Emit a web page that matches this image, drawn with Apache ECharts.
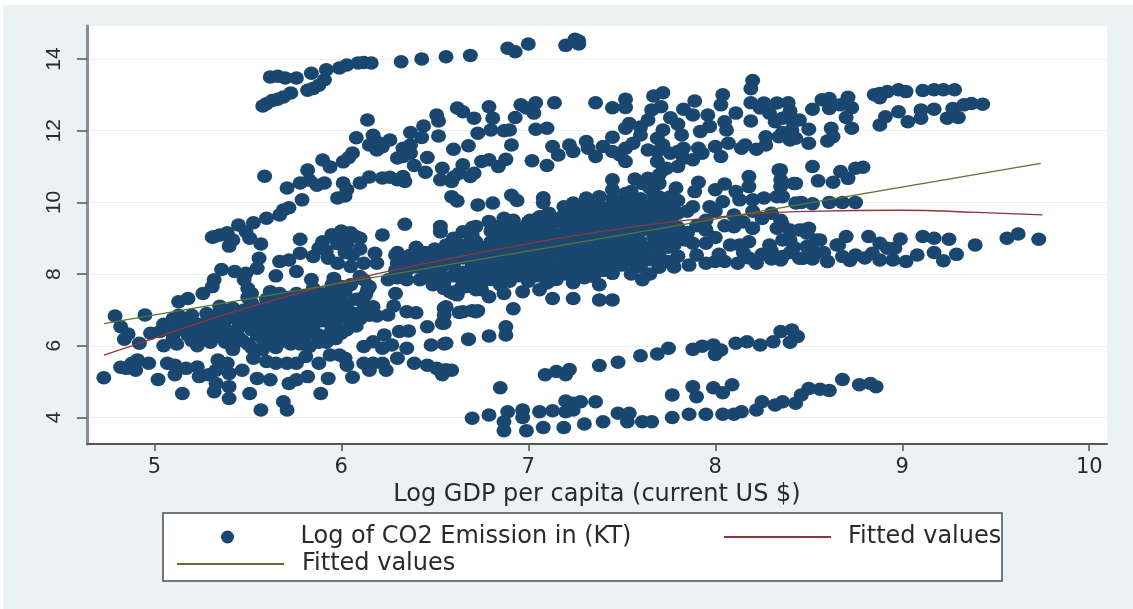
<!DOCTYPE html>
<html>
<head>
<meta charset="utf-8">
<title>Log CO2 emission vs log GDP per capita</title>
<script src="https://cdn.jsdelivr.net/npm/echarts@6/dist/echarts.min.js"></script>
<style>
  html, body { margin: 0; padding: 0; background: #fff; }
  #chart { width: 1133px; height: 609px; }
</style>
</head>
<body>
<div id="chart"></div>
<script>
// values, [log GDP per capita, log CO2]
const topArc = [[5.58,12.69],[5.6,12.75],[5.63,12.84],[5.66,12.88],[5.69,12.94],[5.73,13.05],[5.82,13.13],[5.85,13.18],[5.88,13.27],[5.91,13.42],[5.84,13.6],[5.62,13.5],[5.66,13.52],[5.7,13.47],[5.76,13.47],[5.92,13.7],[5.99,13.75],[6.03,13.83],[6.09,13.89],[6.16,13.89],[6.12,13.9],[6.32,13.92],[6.43,14],[6.56,14.06],[6.69,14.1],[6.89,14.3],[6.93,14.2],[7,14.42],[7.2,14.38],[7.27,14.5],[7.27,14.42],[7.25,14.55]];

const upperLeft = [[6.14,12.3],[6.08,11.8],[6.17,11.87],[6.19,11.46],[6.26,11.74],[6.2,11.66],[6.15,11.6],[6.22,11.55],[6.06,11.38],[6.01,11.13],[6.04,11.25],[5.9,11.18],[5.94,10.99],[5.59,10.73],[5.82,10.9],[5.71,10.4],[5.78,10.54],[5.83,10.62],[5.87,10.48],[5.91,10.54],[5.79,10.07],[6.01,10.54],[6.03,10.35],[5.98,10.12],[6.02,10.18],[6.1,10.54],[6.15,10.71],[6.22,10.68],[6.3,10.63],[6.26,10.7],[6.3,11.24],[5.69,9.79],[5.72,9.85],[5.67,9.65],[5.6,9.56],[5.53,9.43],[5.45,9.37],[5.49,9.18],[5.35,9.09],[5.31,9.03],[5.39,9.15],[5.42,8.95],
  [6.62,12.63],[6.65,12.53],[6.51,12.44],[6.52,12.27],[6.71,12.35],[6.79,12.67],[6.81,12.35],[6.93,12.37],[6.96,12.72],[6.99,12.63],[7.04,12.78],[7.03,12.49],[7.14,12.78],[6.37,11.95],[6.44,12.13],[6.43,11.81],[6.52,11.85],[6.73,11.93],[6.8,12.02],[6.87,12],[6.9,12.02],[7.04,12.04],[7.1,12.07],[6.91,11.6],[6.6,11.48],[6.68,11.58],[6.37,11.6],[6.33,11.51],[6.37,11.37],[6.33,11.28],[6.46,11.25],[6.39,11.03],[6.45,10.84],[6.33,10.72],[6.34,10.58],[6.54,10.95],[6.65,11.05],[6.75,11.14],[6.79,11.19],[6.88,11.2],[6.84,11],[7.02,11.16],[7.1,11.03],[6.53,10.63],[6.59,10.58],[6.63,10.81],[6.69,10.72],[6.71,10.81],[6.6,10.7],[6.59,10.16],[6.62,10.04],[6.73,9.93],[6.81,9.98],[6.91,10.2],[6.94,10.05],[7.08,10.13],[7.08,9.99],[6.34,9.39],[6.53,9.33],[6.53,9.18]];

const upperRight = [[7.36,12.78],[7.45,12.64],[7.52,12.88],[7.52,12.65],[7.67,12.97],[7.72,13.06],[8.2,13.4],[8.19,13.17],[7.89,12.83],[8.04,13],[8.03,12.72],[8.11,12.49],[7.96,12.44],[7.88,12.44],[7.83,12.6],[7.71,12.67],[7.66,12.58],[7.76,12.36],[7.64,12.3],[7.54,12.2],[7.6,12.1],[7.52,12.07],[7.8,12.18],[7.72,12.02],[7.6,11.88],[7.82,11.88],[7.92,11.98],[7.97,12.12],[8.05,12.25],[8.06,12.02],[8.19,12.27],[8.19,12.78],[8.26,12.77],[8.33,12.77],[8.39,12.78],[8.24,12.63],[8.29,12.49],[8.32,12.25],[8.36,12.35],[8.41,12.3],[8.41,12.02],
  [7.13,11.56],[7.16,11.32],[7.22,11.6],[7.24,11.42],[7.31,11.7],[7.32,11.51],[7.36,11.28],[7.4,11.56],[7.45,11.82],[7.45,11.42],[7.49,11.32],[7.52,11.14],[7.52,11.51],[7.56,11.65],[7.64,11.46],[7.69,11.79],[7.69,11.42],[7.69,11.14],[7.72,11.6],[7.76,11.37],[7.8,11.42],[7.83,11.23],[7.88,11.19],[7.83,11.51],[7.91,11.51],[7.93,11.37],[8,11.56],[8.07,11.65],[8.03,11.28],[8.14,11.51],[8.16,11.6],[8.22,11.48],[8.27,11.83],[8.27,11.6],[8.34,11.83],[8.4,11.74],[7.74,10.95],[7.8,11],[7.72,10.9],
  [7.45,10.63],[7.57,10.65],[7.61,10.53],[7.64,10.67],[7.7,10.77],[7.7,10.53],[7.91,10.56],[7.89,10.3],[8,10.35],[8.05,10.51],[8.11,10.3],[8.18,10.72],[8.18,10.44],[8.34,10.9],[8.35,10.63],[8.35,10.44],[8.42,10.53],[8.33,10.16],[8.26,10.12],[8.2,10.07],[8.13,10.07],[8.04,10.02],[7.97,9.88],[7.88,9.88],[7.79,10.4],[7.76,10.16],[7.67,10.25],
  [8.85,13],[8.88,13.04],[8.92,13.09],[8.98,13.14],[9.02,13.09],[9.11,13.12],[9.17,13.14],[9.22,13.14],[9.28,13.14],[8.88,12.92],[8.88,12.16],[8.91,12.39],[8.98,12.53],[9.03,12.25],[9.1,12.35],[9.1,12.58],[9.17,12.6],[9.24,12.35],[9.3,12.37],[9.27,12.62],[9.33,12.72],[9.37,12.76],[9.43,12.74],[8.57,12.86],[8.61,12.9],[8.71,12.93],[8.52,12.6],[8.61,12.62],[8.73,12.64],[8.67,12.72],[8.7,12.37],[8.73,12.07],[8.62,12.07],[8.63,11.83],[8.6,11.71],[8.5,11.65],[8.5,12.04],[8.45,12.3],[8.4,12.55],[8.43,11.79],[8.36,11.95],[8.52,11],[8.79,10.98],[8.75,10.95],[8.67,10.86],[8.55,10.6],[8.63,10.56],[8.71,10.67],[8.43,10.53],[8.35,10.9],[8.36,10.16],[8.46,10],[8.52,9.96],[8.61,10],[8.68,10],[8.75,10]];

const denseLeft = [[5.03,6.4],[5.05,6.6],[5.1,6.75],[5.15,6.45],[5.1,6.2],[5.05,6],[5.18,6.7],[5.2,6.15],[5.23,6],[5.27,6.3],[5.3,6.75],[5.35,6.6],[5.38,6.1],[5.42,5.9],[5.45,6.25],[5.47,6.9],[5.5,6.6],[5.5,6.05],[5.52,5.95],[5.55,6.3],[5.57,6.75],[5.6,6.98],[5.6,6.1],[5.62,6.5],[5.65,5.95],[5.67,6.85],[5.68,6.25],[5.7,7.1],[5.72,6.6],[5.73,6.05],[5.75,6.95],[5.75,6.35],[5.78,6.75],[5.8,7.2],[5.8,6.15],[5.82,6.5],[5.83,5.98],[5.85,6.9],[5.87,7.1],[5.88,6.3],[5.9,6.7],[5.92,6.1],[5.93,7.4],[5.95,6.5],[5.97,7],[5.98,7.3],[6,6.8],[6,6.35],[6.02,7.5],[6.03,7.15],[6.05,6.6],[6.07,6.9],[6.08,7.3],[6.1,6.75],[6.12,6.95],[5.55,7],[5.45,6.5],[5.5,6.85],[5.58,6.45],[5.65,6.7],[5.7,6.85],[5.68,6.4],[5.62,6.25],[5.78,6.55],[5.85,6.35],[5.9,6.95],[5.95,6.8],[5.4,6.4],[5.32,6.5],[5.25,6.6],[5.2,6.85],[5.13,6.85],[5.28,6.9],[5.37,6.85],[5.42,7.05],[5.52,7.2],[5.65,7.2],[5.75,7.25],[5.85,7.3],[5.9,7.45],[5.95,7.55],[6,7.65],[5.95,7.7],[6.05,7.7],[5.6,6.6],[5.7,6.45],[5.8,6.85],[5.55,6.55],[5.47,6.15],[5.58,5.9],[5.3,6.1],[5.12,6.05],[5.93,6.3],[6.03,6.9],
  [5.6,7.15],[5.68,7],[5.75,7.1],[5.82,7.05],[5.92,7.15],[6,7.05],[6.03,6.45],[5.97,6.2],[5.88,6.1],[5.78,6.3],[5.72,6.2],[5.58,6.2],[5.52,6.45],[5.45,6.7],[5.38,6.7],[5.32,6.3],[5.25,6.4],[5.18,6.3],[5.08,6.45],[5.15,6.6],[5.22,6.5],[5.35,6.95],[5.43,6.8],[5.48,7],[5.62,6.85],[5.72,6.75],[5.85,6.7],[5.85,6.55],[5.97,6.65],[6.08,6.55],[5.92,6.85],[5.65,6.4],[5.52,6.7],[5.4,6.2],[5.28,6.65],[5.18,6.55],[5.35,7.1],[5.6,7.3],[5.72,7.35],[5.8,7.4],[5.5,7.35],[6.12,7.15],[6.15,6.85],[5.95,7.2],[5.6,6.35],[5.78,6.05],[5.67,6.1],[5.35,6.25],[5.42,6.05]];

const leftScatter = [[4.73,5.11],[4.79,6.83],[4.82,6.53],[4.86,6.33],[4.84,6.18],[4.95,6.86],[4.92,6.07],[4.98,6.35],[4.82,5.4],[4.85,5.37],[4.88,5.51],[4.91,5.6],[4.97,5.51],[4.9,5.32],[5.02,5.06],[5.07,5.51],[5.11,5.46],[5.11,5.19],[5.15,4.67],[5.17,5.37],[5.23,5.41],[5.24,5.14],[5.29,5.19],[5.32,4.72],[5.34,5.6],[5.33,5.32],[5.33,4.95],[5.4,4.53],[5.4,4.86],[5.39,5.51],[5.4,5.23],[5.47,5.32],[5.51,4.67],[5.53,5.65],[5.55,5.09],[5.57,4.21],[5.69,4.44],[5.71,4.21],[5.6,5.56],[5.62,5.05],[5.65,5.51],[5.72,4.95],[5.71,5.51],[5.76,5.51],[5.76,5.05],[5.81,5.7],[5.82,5.14],[5.88,5.51],[5.93,5.09],[5.89,4.67],[5.94,5.74],[5.99,5.74],[6.02,5.65],[6.03,5.46],[6.06,5.12],[6.12,5.51],[6.17,5.51],[6.15,5.32],[6.24,5.32],[6.22,5.51],[6.3,5.65],[6.35,5.93],[6.39,5.51],[6.46,5.46],[6.51,5.37],[6.59,5.32],[6.54,5.19],[6.56,5.33],[6.12,5.98],[6.17,6.11],[6.23,6.3],[6.27,6.02],[6.22,5.93],[6.31,6.4],[6.36,6.41],[6.46,6.53],[6.48,6.02],[6.55,6.05],[6.68,6.18],[6.17,7.09],[6.19,6.83],[6.25,6.86],[6.28,7.11],[6.35,6.95],[6.4,6.92],[6.55,7.05],[6.54,6.63],[6.65,6.95],[6.72,6.95],[6.29,7.46],[6.15,7.65],[6.13,7.42],[6.11,7.32],
  [5.32,9.04],[5.39,9.09],[5.4,8.78],[5.51,9],[5.57,8.84],[5.78,8.97],[5.56,8.44],[5.67,8.35],[5.72,8.39],[5.78,8.58],[5.76,8.07],[5.65,7.95],[5.55,8.16],[5.49,8.02],[5.48,7.84],[5.36,8.13],[5.32,7.84],[5.31,7.65],[5.26,7.46],[5.18,7.32],[5.13,7.23],[5.43,8.07],[5.5,7.6],[5.52,7.46],[5.62,7.51],[5.67,7.46],[5.76,7.46],[5.84,7.85],[5.85,7.6],[5.88,8.72],[5.96,9.04],[6.01,8.95],[6.08,9.04],[6.22,9.09],[6.53,9.18],[5.93,8.44],[5.85,8.49],[5.98,8.3],[6.05,8.21],[5.96,7.88],[6.06,8.53],[6.18,8.58],[6.12,8.3],[6.19,8.3],[6.29,8.53],[6.37,8.53],[6.46,8.58],[6.56,8.81],[6.62,8.86],[6.69,9.09],[6.25,7.84],[6.35,7.84],[6.42,7.84],[6.49,7.7],[6.58,7.51],[6.62,7.42],[6.53,8.02],[6.58,8.3],[6.38,8.21],[6.29,8.11],[6.67,7.65],[6.72,7.56],[6.72,8.02],[6.12,7.84],[6.14,7.56],[6.1,7.93],[5.95,9.1],[6,9.2],[6.05,9.15],[6.1,9],[5.98,8.85],[6.03,8.85],[5.9,8.9],[5.92,8.65],[6.02,8.6],[6.1,8.7]];

const denseMiddle = [[6.3,8.3],[6.3,8.6],[6.3,7.9],[6.4,8.45],[6.4,8.2],[6.4,8.75],[6.5,8.4],[6.5,8.1],[6.5,8.7],[6.5,7.95],[6.55,8.55],[6.55,7.8],[6.55,7.6],[6.6,8.65],[6.6,8.25],[6.6,7.95],[6.6,9],[6.65,8.45],[6.65,8.05],[6.65,7.75],[6.65,8.8],[6.7,8.6],[6.7,8.25],[6.7,7.9],[6.7,9.1],[6.7,9.3],[6.75,8.75],[6.75,8.4],[6.75,8.05],[6.75,7.75],[6.8,9.2],[6.8,8.9],[6.8,8.5],[6.8,8.15],[6.8,7.85],[6.85,9.35],[6.85,8.65],[6.85,8.3],[6.85,8],[6.85,7.7],[6.9,9.4],[6.9,9.1],[6.9,8.8],[6.9,8.45],[6.9,8.1],[6.9,7.8],[6.95,9.25],[6.95,8.95],[6.95,8.6],[6.95,8.25],[6.95,7.95],[7,9.45],[7,9.1],[7,8.75],[7,8.4],[7,8.1],[7,7.8],[7.05,9.55],[7.05,9.2],[7.05,8.9],[7.05,8.55],[7.05,8.25],[7.05,7.95],[7.1,9.65],[7.1,9.35],[7.1,9],[7.1,8.7],[7.1,8.35],[7.1,8.05],[7.1,7.75],[7.15,9.45],[7.15,9.1],[7.15,8.8],[7.15,8.5],[7.15,8.15],[7.15,7.85],[7.2,9.75],[7.2,9.4],[7.2,9.2],[7.2,8.9],[7.2,8.6],[7.2,8.3],[7.2,8],[7.25,9.85],[7.25,9.55],[7.25,9.3],[7.25,9],[7.25,8.7],[7.25,8.4],[7.25,8.1],[7.3,9.95],[7.3,9.65],[7.3,9.35],[7.3,9.05],[7.3,8.75],[7.3,8.45],[7.3,8.15],[7.3,7.9],[7.35,10],[7.35,9.75],[7.35,9.45],[7.35,9.15],[7.35,8.85],[7.35,8.55],[7.35,8.25],[7.35,8],[7.4,9.85],[7.4,9.55],[7.4,9.25],[7.4,8.95],[7.4,8.65],[7.4,8.35],[7.4,8.1],[7.45,10.1],[7.45,9.8],[7.45,9.5],[7.45,9.2],[7.45,8.9],[7.45,8.6],[7.45,8.35],[7.5,10],[7.5,9.7],[7.5,9.4],[7.5,9.1],[7.5,8.8],[7.5,8.5],[7.5,8.25],[7.55,10.3],[7.55,9.95],[7.55,9.65],[7.55,9.35],[7.55,9.05],[7.55,8.7],[7.55,8.35],[7.55,8],[7.6,10.1],[7.6,9.8],[7.6,9.5],[7.6,9.2],[7.6,8.9],[7.6,8.6],[7.6,8.2],[7.65,10.4],[7.65,9.95],[7.65,9.6],[7.65,9.3],[7.65,8.75],[7.65,8.4],[7.65,8],[7.7,10.15],[7.7,9.75],[7.7,9.45],[7.7,9.05],[7.7,8.55],[7.7,8.2],[7.75,9.85],[7.75,9.55],[7.75,9.1],[7.75,8.75],[7.75,8.35],[7.8,10.05],[7.8,9.7],[7.8,9.3],[7.8,8.95],[7.8,8.5],
  [7.38,9.7],[7.31,10.12],[7.38,10.16],[7.45,10.35],[7.52,10.25],[7.56,10.07],[7.24,9.98],[7.19,9.88],[7.11,9.7],[7.06,9.6],[7.01,9.5],[6.92,9.5],[6.87,9.56],[6.79,9.47],[6.72,9.33],[6.65,9.18],
  [6.35,8.45],[6.45,8.6],[6.45,8.3],[6.35,8.1],[6.45,7.98],[6.55,8.25],[6.6,8.45],[6.68,8.7],[6.72,8.45],[6.78,8.3],[6.78,8.65],[6.72,8.9],[6.82,8.75],[6.85,9],[6.9,9.25],[6.92,8.95],[6.98,9.3],[6.98,8.5],[7.02,8.9],[7.08,8.45],[7.12,9.15],[7.18,9.6],[7.22,9.05],[7.27,9.15],[7.27,8.85],[7.32,8.6],[7.37,8.7],[7.42,9.1],[7.47,9.35],[7.47,8.75],[7.52,9.55],[7.52,8.95],[7.57,8.5],[7.62,9.35],[7.67,9.05],[7.72,9.25],[7.72,8.85],[7.77,9.4],[7.62,9.65],[7.67,9.8],[7.72,9.95],[7.58,9.85],[7.42,9.4],[7.32,9.5],[7.12,8.55],[7.07,8.1],[6.97,8.1],[6.87,8.15],[6.82,7.98],[6.72,7.75]];

const rightBand = [[7.85,9.75],[7.9,9.35],[7.95,9.5],[8,9.75],[8.05,9.35],[8.1,9.65],[8.15,9.45],[8.2,9.75],[8.25,9.55],[8.3,9.7],[8.35,9.5],[7.85,9.14],[7.95,9.23],[8.1,9.33],[8.2,9.28],[8.33,9.28],[8.4,9.23],[8.43,9.98],[7.85,9.16],[7.95,9.23],[8.1,9.32],[8.2,9.28],[8.35,9.37],[8.47,9.23],[7.78,8.81],[7.88,8.86],[7.95,8.86],[8.08,8.81],[8.13,8.81],[8.29,8.81],[8.36,8.95],[8.49,9.14],[8.54,8.95],[8.65,8.81],[7.9,8.53],[8.02,8.55],[8.15,8.6],[8.25,8.55],[8.4,8.6],[7.7,8.2],[7.78,8.2],[7.86,8.25],[7.72,8.35],[7.95,8.3],[8,8.35],[8.22,8.3],[8.35,8.39],[8.47,8.44],[8.6,8.35],[7.6,8.3],[7.45,8.02],[7.35,7.93],[7.61,7.84],[7.38,7.7],[7.13,7.84],[7.24,7.76],[6.75,7.56],[6.79,7.37],[6.87,7.46],[6.97,7.51],[7.06,7.56],[6.6,7.46],[6.55,7.6],[6.63,7.56],[7.38,7.28],[7.45,7.28],[7.24,7.32],[7.13,7.32],[6.7,6.98],[6.63,6.93],[6.73,6.98],[6.92,7.03],[6.56,7.09],[6.55,6.86],[6.55,6.63],
  [8.36,9.37],[8.45,9.23],[8.5,9.28],[8.56,8.95],[8.7,9.05],[8.82,9.05],[8.99,8.98],[9.11,9.05],[9.17,9],[9.25,8.97],[9.39,8.81],[9.56,9],[9.62,9.12],[9.73,8.97],[8.36,8.49],[8.45,8.44],[8.52,8.67],[8.6,8.35],[8.68,8.49],[8.75,8.53],[8.84,8.58],[8.88,8.39],[8.95,8.39],[8.92,8.72],[8.96,8.72],[9.02,8.35],[9.08,8.53],[9.17,8.6],[9.22,8.37],[9.29,8.55],[8.66,8.81],[8.88,8.86],[8.4,8.95],[8.49,8.77],
  [8.05,8.35],[8.12,8.3],[8.18,8.45],[8.3,8.42],[8.42,8.75],[8.3,8.65],[8.58,8.6],[8.52,8.42],[8.72,8.38],[8.8,8.45],[8.18,8.9],[7.84,8.95],[8,9.02]];

const lowerBands = [[6.88,6.3],[6.88,6.53],[6.79,6.27],[6.68,6.18],[6.56,6.07],[7.09,5.19],[7.15,5.28],[7.2,5.19],[7.22,5.34],[7.38,5.45],[7.48,5.54],[7.6,5.72],[7.69,5.77],[7.75,5.93],[7.88,5.9],[7.93,5.99],[7.99,6.02],[8.03,5.88],[8,5.76],[8.11,6.07],[8.17,6.11],[8.24,6.02],[8.31,6.11],[8.35,6.4],[8.41,6.44],[8.44,6.26],[8.4,6.1],
  [6.7,3.98],[6.79,4.07],[6.87,3.88],[6.87,3.63],[6.89,4.16],[6.97,4.21],[6.97,4],[6.99,3.63],[7.06,4.16],[7.08,3.72],[7.13,4.19],[7.19,3.72],[7.2,4.16],[7.24,4.21],[7.2,4.46],[7.24,4.4],[7.28,4.44],[7.36,4.44],[7.3,3.82],[7.4,3.88],[7.48,4.12],[7.54,4.12],[7.53,3.88],[7.61,3.88],[7.66,3.88],[7.77,4],[7.86,4.09],[7.95,4.09],[8.04,4.09],[8.1,4.09],[8.14,4.16],[8.22,4.21],[8.25,4.44],[8.32,4.35],[8.36,4.44],[8.43,4.4],[8.46,4.63],[7.77,4.63],[7.9,4.58],[7.88,4.86],[7.99,4.83],[8.04,4.69],[8.09,4.91],[6.85,4.83],[8.68,5.06],[8.77,4.91],[8.83,4.95],[8.86,4.86],[8.61,4.75],[8.56,4.79],[8.5,4.81]];

const co2Points = [].concat(topArc, upperLeft, upperRight, denseLeft, leftScatter, denseMiddle, rightBand, lowerBands);

// quadratic fit, red
const fitCurve = [[4.73,5.74],[4.92,6.07],[5.31,6.76],[5.74,7.42],[6,7.78],[6.5,8.35],[7,8.85],[7.5,9.27],[8,9.58],[8.5,9.75],[9,9.78],[9.4,9.72],[9.75,9.65]];
// straight fit, green
const fitLine = [[4.73,6.62],[9.74,11.09]];

const xTicks = [5, 6, 7, 8, 9, 10];
const yTicks = [4, 6, 8, 10, 12, 14];

const textFont = '"DejaVu Sans", sans-serif';
const textColor = '#2a2a2a';

const myChart = echarts.init(document.getElementById('chart'));

function legendRow(name, left, top, itemWidth, itemHeight, icon, textGap) {
  return {
    data: [name],
    left: left,
    top: top,
    icon: icon,
    itemWidth: itemWidth,
    itemHeight: itemHeight,
    itemGap: 0,
    padding: 0,
    selectedMode: false,
    formatter: function (n) {
      return n.indexOf('Fitted') === 0 ? 'Fitted values' : n;
    },
    textStyle: { fontFamily: textFont, fontSize: 24, color: textColor, padding: [0, 0, 0, textGap] }
  };
}

myChart.setOption({
  animation: false,
  backgroundColor: '#fff',
  graphic: [
    { type: 'rect', silent: true, z: -10, shape: { x: 3, y: 5, width: 1130, height: 604 }, style: { fill: '#eaf2f3' } },
    { type: 'rect', silent: true, z: 1, shape: { x: 163, y: 513, width: 839, height: 68 }, style: { fill: '#fff', stroke: '#4a4f52', lineWidth: 1.5 } }
  ],
  grid: {
    left: 87,
    right: 26,
    top: 26,
    bottom: 165,
    show: true,
    backgroundColor: '#fff',
    borderWidth: 0
  },
  legend: [
    legendRow('Log of CO2 Emission in (KT)', 221, 525, 14, 13, 'circle', 61),
    legendRow('Fitted values (quadratic)', 724, 525, 107, 2, 'rect', 12),
    legendRow('Fitted values (linear)', 177, 552, 107, 2, 'rect', 13)
  ],
  xAxis: {
    type: 'value',
    min: 4.64,
    max: 10.095,
    name: 'Log GDP per capita (current US $)',
    nameLocation: 'middle',
    nameGap: 38,
    nameTextStyle: { fontFamily: textFont, fontSize: 24, color: textColor },
    axisLine: { show: true, onZero: false, lineStyle: { color: '#555', width: 2 } },
    axisTick: { show: true, length: 7, customValues: xTicks, lineStyle: { color: '#555', width: 1.5 } },
    axisLabel: { customValues: xTicks, margin: 13, fontFamily: textFont, fontSize: 21, color: textColor },
    splitLine: { show: false }
  },
  yAxis: {
    type: 'value',
    min: 3.26,
    max: 14.92,
    axisLine: { show: true, onZero: false, lineStyle: { color: '#8a8d90', width: 3 } },
    axisTick: { show: true, length: 10, customValues: yTicks, lineStyle: { color: '#555', width: 1.5 } },
    axisLabel: { customValues: yTicks, rotate: 90, margin: 22, fontFamily: '"Liberation Sans", sans-serif', fontSize: 21, color: textColor },
    splitLine: { show: true, lineStyle: { color: '#eaf2f3', width: 1 } }
  },
  series: [
    {
      name: 'Log of CO2 Emission in (KT)',
      type: 'scatter',
      data: co2Points,
      symbol: 'circle',
      symbolSize: [15, 13.5],
      itemStyle: { color: '#1a476f', opacity: 1 }
    },
    {
      name: 'Fitted values (quadratic)',
      type: 'line',
      data: fitCurve,
      smooth: true,
      symbol: 'none',
      lineStyle: { color: '#90353b', width: 1.3 },
      itemStyle: { color: '#90353b' },
      z: 5
    },
    {
      name: 'Fitted values (linear)',
      type: 'line',
      data: fitLine,
      symbol: 'none',
      lineStyle: { color: '#55752f', width: 1.3 },
      itemStyle: { color: '#55752f' },
      z: 5
    }
  ]
});
</script>
</body>
</html>
